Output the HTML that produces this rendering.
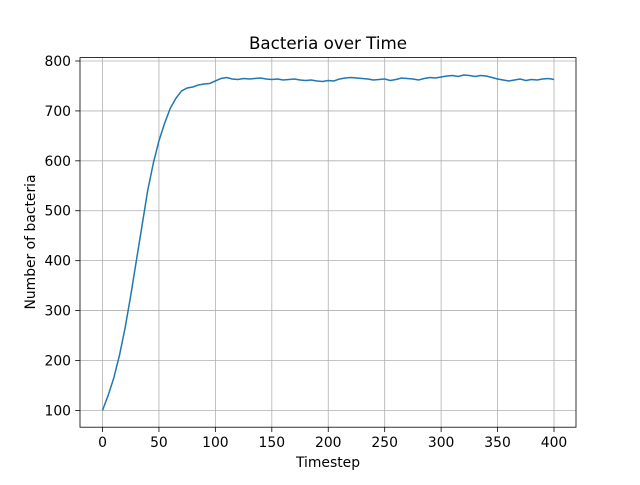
<!DOCTYPE html>
<html><head><meta charset="utf-8"><style>
body{margin:0;background:#fff}
svg text{font-family:"DejaVu Sans","Liberation Sans",sans-serif;fill:#000}
</style></head><body>
<svg id="chart" width="640" height="480" viewBox="0 0 640 480" xmlns="http://www.w3.org/2000/svg">
<rect width="640" height="480" fill="#fff"/>
<g id="grid"></g>
<g id="ticks"></g>
<path id="line" fill="none" stroke="#1f77b4" stroke-width="1.5"/>
<rect x="80" y="57.6" width="496" height="369.6" fill="none" stroke="#000" stroke-width="0.8"/>
<text x="328" y="49" font-size="16.7" text-anchor="middle">Bacteria over Time</text>
<text x="328" y="467" font-size="13.9" text-anchor="middle">Timestep</text>
<text transform="translate(35,242) rotate(-90)" font-size="13.9" text-anchor="middle">Number of bacteria</text>
</svg>
<script>
const xTicks=[0,50,100,150,200,250,300,350,400];
const yTicks=[100,200,300,400,500,600,700,800];
const steps=[];for(let i=0;i<=400;i+=5)steps.push(i);
const counts=[100,130,165,210,265,330,400,470,540,595,640,675,705,725,740,746,748,752,754,755,760,765,767,764,763,765,764,765,766,764,763,764,762,763,764,762,761,762,760,759,761,760,764,766,767,766,765,764,762,763,764,761,763,766,765,764,762,765,767,766,768,770,771,769,772,771,769,771,770,767,764,762,760,762,764,761,763,762,764,765,763];
const sx=v=>102.5+v*(554-102.5)/400;
const sy=v=>410.4-(v-100)*(410.4-61)/700;
const ns="http://www.w3.org/2000/svg";
const grid=document.getElementById('grid'),ticks=document.getElementById('ticks');
function mk(tag,attrs,parent){const e=document.createElementNS(ns,tag);for(const k in attrs)e.setAttribute(k,attrs[k]);parent.appendChild(e);return e;}
xTicks.forEach(t=>{const x=sx(t);
 const g=mk('line',{x1:x,x2:x,y1:57.6,y2:427.2,stroke:'#b0b0b0','stroke-width':0.8},grid);
 
 
 const tk=mk('line',{x1:x,x2:x,y1:427.2,y2:432,stroke:'#000','stroke-width':0.8},ticks);
 
 
 const tx=mk('text',{x:x,y:447,'font-size':13.9,'text-anchor':'middle'},ticks);tx.textContent=t;
 
 
});
yTicks.forEach(t=>{const y=sy(t);
 const g=mk('line',{x1:80,x2:576,y1:y,y2:y,stroke:'#b0b0b0','stroke-width':0.8},grid);
 
 
 const tk=mk('line',{x1:75.2,x2:80,y1:y,y2:y,stroke:'#000','stroke-width':0.8},ticks);
 
 
 const tx=mk('text',{x:71,y:y+5,'font-size':13.9,'text-anchor':'end'},ticks);tx.textContent=t;
 
 
});
document.getElementById('line').setAttribute('d',counts.map((c,i)=>(i?'L':'M')+sx(steps[i]).toFixed(2)+' '+sy(c).toFixed(2)).join(' '));
</script>
</body></html>
